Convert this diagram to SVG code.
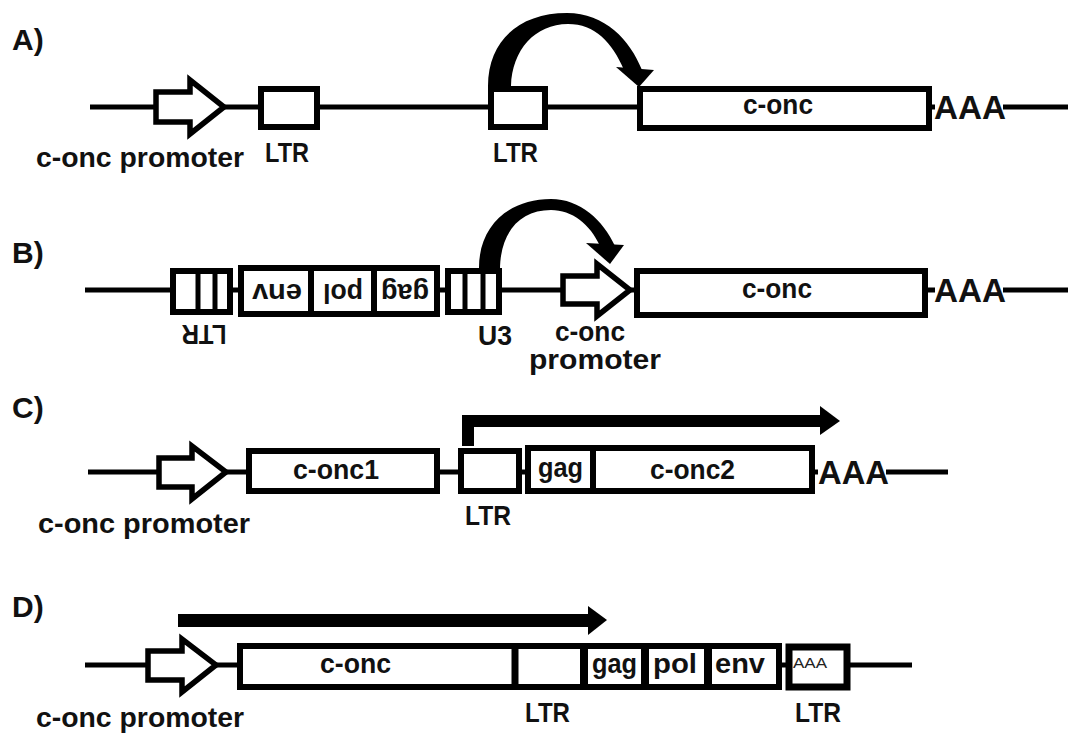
<svg xmlns="http://www.w3.org/2000/svg" width="1073" height="735" viewBox="0 0 1073 735">
<style>
.box{fill:#fff;stroke:#000;stroke-width:6}
.dv{stroke:#000;stroke-width:6}
.dvs{stroke:#000;stroke-width:5}
.bb{stroke:#000;stroke-width:5;fill:none}
.prom{fill:#fff;stroke:#000;stroke-width:5.5;stroke-linejoin:miter;stroke-miterlimit:10}
.arr{fill:#000;stroke:none}
.t{font-family:"Liberation Sans",Arial,sans-serif;font-weight:bold;fill:#111}
.pl{font-size:30px}
.lb{font-size:28px}
.in{font-size:27px}
.aaa{font-size:33px}
.sm{font-family:"Liberation Sans",Arial,sans-serif;font-size:14px;fill:#222}
</style>
<rect width="1073" height="735" fill="#fff"/>

<g id="connectors">
  <path class="bb" d="M90,107 H935 M1003,107 H1068"/>
  <path class="bb" d="M85,290 H935 M1003,290 H1068"/>
  <path class="bb" d="M88,472 H818 M886,472 H948"/>
  <path class="bb" d="M85,665 H912"/>
  <path class="arr" d="M488,86 C488,40 520,13 567,13 C605,13 630,40 642,70 L624,70 C612,42 595,24 568,24 C535,24 512,50 511,86 Z"/>
  <path class="arr" d="M616,67 L654,70 L639,87 Z"/>
  <path class="arr" d="M479,270 C478,225 510,199 551,199 C580,199 603,220 615,246 L600,246 C590,224 572,210 551,210 C520,210 500,232 500,270 Z"/>
  <path class="arr" d="M586,243 L624,245 L610,264 Z"/>
  <path class="arr" d="M462,446 L462,415 L822,415 L822,427 L474,427 L474,446 Z"/>
  <path class="arr" d="M820,406 L840,421 L820,435 Z"/>
  <rect class="arr" x="178" y="614" width="412" height="13"/>
  <path class="arr" d="M588,606 L607,620 L588,635 Z"/>
</g>

<g id="labelA"><text class="t pl" x="12" y="50">A)</text></g>
<g id="labelB"><text class="t pl" x="12" y="263">B)</text></g>
<g id="labelC"><text class="t pl" x="12" y="418">C)</text></g>
<g id="labelD"><text class="t pl" x="12" y="617">D)</text></g>

<g id="A-promoter">
  <path class="prom" d="M156,92 L190,92 L190,80 L224,107 L190,134 L190,122 L156,122 Z"/>
  <text class="t lb" x="36" y="167" textLength="208" lengthAdjust="spacingAndGlyphs">c-onc promoter</text>
</g>
<g id="A-LTR1">
  <rect class="box" x="261" y="89" width="56" height="38"/>
  <text class="t lb" x="265" y="162" textLength="44" lengthAdjust="spacingAndGlyphs">LTR</text>
</g>
<g id="A-LTR2">
  <rect class="box" x="491" y="89" width="54" height="38"/>
  <text class="t lb" x="493" y="162" textLength="45" lengthAdjust="spacingAndGlyphs">LTR</text>
</g>
<g id="A-conc">
  <rect class="box" x="640" y="89" width="289" height="39"/>
  <text class="t in" x="778" y="114" text-anchor="middle" textLength="70" lengthAdjust="spacingAndGlyphs">c-onc</text>
</g>
<g id="A-AAA"><text class="t aaa" x="934" y="119" textLength="72" lengthAdjust="spacingAndGlyphs">AAA</text></g>

<g id="B-LTR">
  <rect class="box" x="173" y="271" width="57" height="41"/>
  <line class="dvs" x1="198" y1="271" x2="198" y2="312"/>
  <line class="dvs" x1="215" y1="271" x2="215" y2="312"/>
  <text class="t lb" x="204" y="345" text-anchor="middle" textLength="45" lengthAdjust="spacingAndGlyphs" transform="rotate(180 204 335)">LTR</text>
</g>
<g id="B-provirus">
  <rect class="box" x="241" y="268" width="196" height="46"/>
  <line class="dv" x1="311" y1="268" x2="311" y2="314"/>
  <line class="dv" x1="374" y1="268" x2="374" y2="314"/>
  <text class="t in" x="277" y="298" text-anchor="middle" textLength="50" lengthAdjust="spacingAndGlyphs" transform="rotate(180 277 291)">env</text>
  <text class="t in" x="343" y="298" text-anchor="middle" textLength="40" lengthAdjust="spacingAndGlyphs" transform="rotate(180 343 291)">pol</text>
  <text class="t in" x="405" y="298" text-anchor="middle" textLength="48" lengthAdjust="spacingAndGlyphs" transform="rotate(180 405 291)">gag</text>
</g>
<g id="B-U3">
  <rect class="box" x="448" y="271" width="51" height="41"/>
  <line class="dvs" x1="465" y1="271" x2="465" y2="312"/>
  <line class="dvs" x1="483" y1="271" x2="483" y2="312"/>
  <text class="t lb" x="478" y="345" textLength="34" lengthAdjust="spacingAndGlyphs">U3</text>
</g>
<g id="B-promoter">
  <path class="prom" d="M563,276 L597,276 L597,264 L630,290 L597,316 L597,304 L563,304 Z"/>
  <text class="t lb" x="590" y="341" text-anchor="middle" textLength="70" lengthAdjust="spacingAndGlyphs">c-onc</text>
  <text class="t lb" x="595" y="369" text-anchor="middle" textLength="132" lengthAdjust="spacingAndGlyphs">promoter</text>
</g>
<g id="B-conc">
  <rect class="box" x="637" y="271" width="288" height="44"/>
  <text class="t in" x="777" y="298" text-anchor="middle" textLength="70" lengthAdjust="spacingAndGlyphs">c-onc</text>
</g>
<g id="B-AAA"><text class="t aaa" x="934" y="302" textLength="72" lengthAdjust="spacingAndGlyphs">AAA</text></g>

<g id="C-promoter">
  <path class="prom" d="M159,458 L192,458 L192,446 L226,472 L192,499 L192,487 L159,487 Z"/>
  <text class="t lb" x="38" y="533" textLength="212" lengthAdjust="spacingAndGlyphs">c-onc promoter</text>
</g>
<g id="C-conc1">
  <rect class="box" x="249" y="451" width="188" height="40"/>
  <text class="t in" x="293" y="479" textLength="86" lengthAdjust="spacingAndGlyphs">c-onc1</text>
</g>
<g id="C-LTR">
  <rect class="box" x="461" y="451" width="58" height="40"/>
  <text class="t lb" x="465" y="525" textLength="46" lengthAdjust="spacingAndGlyphs">LTR</text>
</g>
<g id="C-gag-conc2">
  <rect class="box" x="528" y="448" width="284" height="43"/>
  <line class="dv" x1="593" y1="448" x2="593" y2="491"/>
  <text class="t in" x="538" y="477" textLength="45" lengthAdjust="spacingAndGlyphs">gag</text>
  <text class="t in" x="650" y="479" textLength="85" lengthAdjust="spacingAndGlyphs">c-onc2</text>
</g>
<g id="C-AAA"><text class="t aaa" x="818" y="484" textLength="71" lengthAdjust="spacingAndGlyphs">AAA</text></g>

<g id="D-promoter">
  <path class="prom" d="M148,651 L182,651 L182,639 L216,665 L182,692 L182,680 L148,680 Z"/>
  <text class="t lb" x="36" y="727" textLength="208" lengthAdjust="spacingAndGlyphs">c-onc promoter</text>
</g>
<g id="D-provirus">
  <rect class="box" x="240" y="646" width="539" height="41"/>
  <line class="dv" x1="515" y1="646" x2="515" y2="687" style="stroke-width:7"/>
  <line class="dv" x1="584" y1="646" x2="584" y2="687" style="stroke-width:8"/>
  <line class="dv" x1="645" y1="646" x2="645" y2="687" style="stroke-width:8"/>
  <line class="dv" x1="708" y1="646" x2="708" y2="687" style="stroke-width:8"/>
  <text class="t in" x="320" y="673" textLength="71" lengthAdjust="spacingAndGlyphs">c-onc</text>
  <text class="t in" x="592" y="673" textLength="45" lengthAdjust="spacingAndGlyphs">gag</text>
  <text class="t in" x="653" y="673" textLength="44" lengthAdjust="spacingAndGlyphs">pol</text>
  <text class="t in" x="715" y="673" textLength="50" lengthAdjust="spacingAndGlyphs">env</text>
  <text class="t lb" x="525" y="722" textLength="45" lengthAdjust="spacingAndGlyphs">LTR</text>
</g>
<g id="D-LTR2">
  <rect class="box" x="789" y="647" width="58" height="40" style="stroke-width:7"/>
  <text class="sm" x="793" y="668" textLength="34" lengthAdjust="spacingAndGlyphs">AAA</text>
  <text class="t lb" x="795" y="722" textLength="46" lengthAdjust="spacingAndGlyphs">LTR</text>
</g>
</svg>
